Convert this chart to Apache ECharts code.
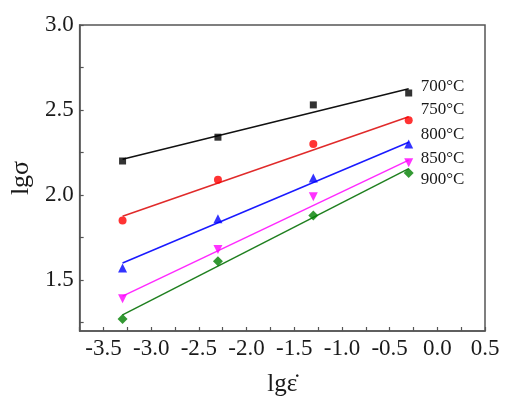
<!DOCTYPE html>
<html>
<head>
<meta charset="utf-8">
<script src="https://cdn.jsdelivr.net/npm/echarts@6/dist/echarts.min.js"></script>
<style>
html,body{margin:0;padding:0;background:#fff;}
#chart{width:527px;height:410px;}
</style>
</head>
<body>
<div id="chart"></div>
<script>
// Data
const strainRates = [-3.3, -2.3, -1.3, -0.3];           // lg(strain rate)
const temps = ['700°C', '750°C', '800°C', '850°C', '900°C'];
const s700 = [2.20, 2.34, 2.53, 2.60];
const s750 = [1.85, 2.09, 2.30, 2.44];
const s800 = [1.57, 1.86, 2.10, 2.30];
const s850 = [1.39, 1.68, 1.99, 2.19];
const s900 = [1.27, 1.61, 1.88, 2.13];
// fitted-line end values (at x = -3.3 and x = -0.3)
const fitX = [-3.3, -0.3];
const f700 = [2.21, 2.625];
const f750 = [1.875, 2.46];
const f800 = [1.60, 2.31];
const f850 = [1.405, 2.205];
const f900 = [1.295, 2.155];
// tick labels
const xLabels = [-3.5, -3.0, -2.5, -2.0, -1.5, -1.0, -0.5, 0.0, 0.5];
const yLabels = [1.5, 2.0, 2.5, 3.0];
const yTicks = [1.25, 1.5, 1.75, 2.0, 2.25, 2.5, 2.75, 3.0];

const pointSets = [s700, s750, s800, s850, s900];
const fitSets = [f700, f750, f800, f850, f900];
const markerColors = ['#000000', '#ff0000', '#0000ff', '#ff00ff', '#008000'];
const lineColors = ['#111111', '#e02a2a', '#1a1aff', '#ff2aff', '#1f7f1f'];
const symbols = ['rect', 'circle', 'triangle', 'triangle', 'diamond'];
const symbolRot = [0, 0, 0, 180, 0];
const symbolSizes = [7, 8, 9, 9, 10];
const labelOffsets = [[0, -2], [0, -7], [0, -8], [0, -2], [0, 11]];

const FONT = '"Liberation Serif", "Times New Roman", serif';

const series = [];
temps.forEach((t, i) => {
  series.push({
    name: t + ' fit',
    type: 'line',
    data: fitX.map((x, k) => [x, fitSets[i][k]]),
    symbol: 'none',
    lineStyle: {color: lineColors[i], width: 1.5},
    z: 2,
    silent: true,
    endLabel: {
      show: true,
      distance: 12,
      offset: labelOffsets[i],
      fontFamily: FONT,
      fontSize: 17,
      color: '#1a1a1a',
      formatter: () => t
    }
  });
  series.push({
    name: t,
    type: 'scatter',
    data: strainRates.map((x, k) => [x, pointSets[i][k]]),
    symbol: symbols[i],
    symbolRotate: symbolRot[i],
    symbolSize: symbolSizes[i],
    itemStyle: {color: markerColors[i]},
    z: 3
  });
});

const chart = echarts.init(document.getElementById('chart'));
chart.setOption({
  animation: false,
  backgroundColor: '#ffffff',
  grid: {
    left: 79, right: 42, top: 25, bottom: 79,
    show: true, borderColor: '#555', borderWidth: 1.5, backgroundColor: 'transparent'
  },
  xAxis: {
    type: 'value',
    min: -3.75, max: 0.5, interval: 0.25,
    name: 'lgε\u0307',
    nameLocation: 'middle',
    nameGap: 41,
    nameTextStyle: {fontFamily: FONT, fontSize: 25, color: '#1a1a1a'},
    axisLine: {show: true, onZero: false, lineStyle: {color: '#555', width: 1.5}},
    axisTick: {show: true, inside: true, length: 4, lineStyle: {color: '#555', width: 1.2}},
    splitLine: {show: false},
    axisLabel: {
      show: true,
      margin: 6,
      fontFamily: FONT, fontSize: 23, color: '#1a1a1a',
      customValues: xLabels,
      formatter: v => v.toFixed(1)
    }
  },
  yAxis: {
    type: 'value',
    min: 1.2, max: 3.0,
    name: 'lgσ',
    nameLocation: 'middle',
    nameGap: 37,
    nameRotate: 90,
    nameTextStyle: {fontFamily: FONT, fontSize: 26, color: '#1a1a1a'},
    axisLine: {show: true, onZero: false, lineStyle: {color: '#555', width: 1.5}},
    axisTick: {show: true, inside: true, length: 4, customValues: yTicks, lineStyle: {color: '#555', width: 1.2}},
    splitLine: {show: false},
    axisLabel: {
      show: true,
      margin: 6,
      fontFamily: FONT, fontSize: 23, color: '#1a1a1a',
      customValues: yLabels,
      formatter: v => v.toFixed(1)
    }
  },
  series: series
});
</script>
</body>
</html>
